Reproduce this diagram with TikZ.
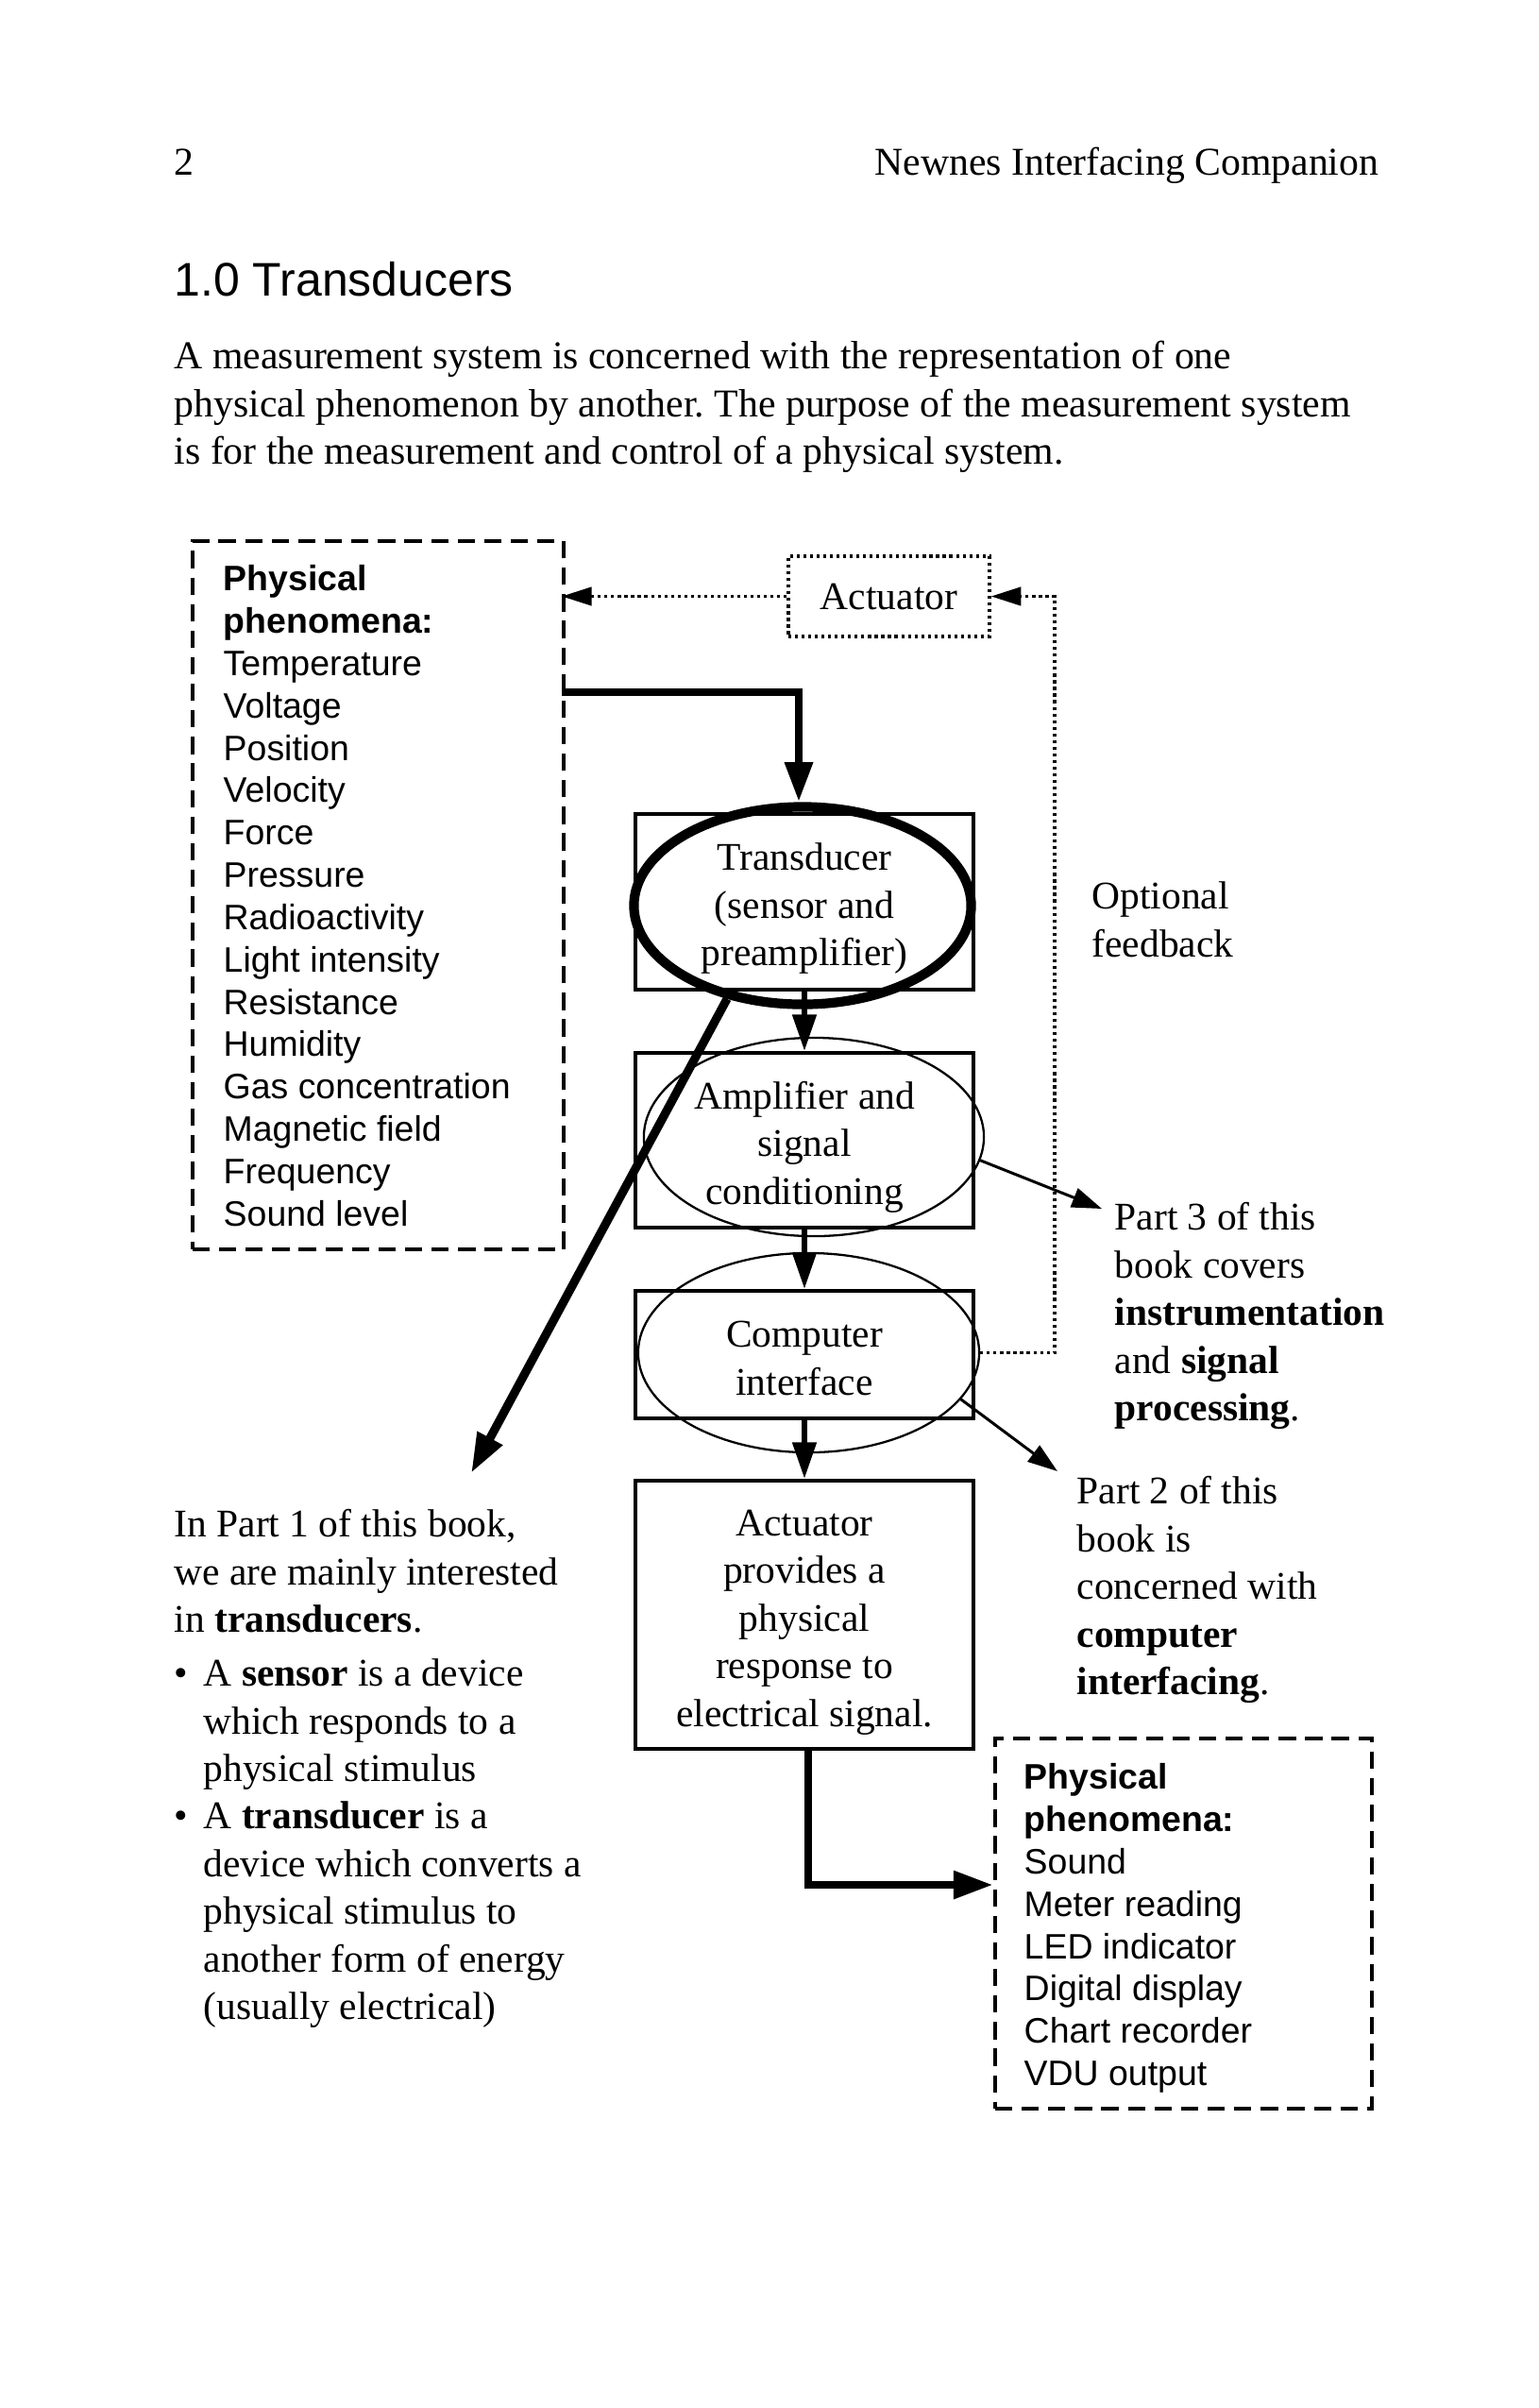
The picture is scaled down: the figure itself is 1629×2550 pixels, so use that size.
\documentclass[tikz,border=0pt]{standalone}
\usepackage{fontspec}
\setmainfont{Liberation Serif}
\setsansfont{Liberation Sans}
\usetikzlibrary{shapes.geometric,arrows.meta,calc}
\newcommand{\tstrut}{\rule{0pt}{12.3pt}}
\begin{document}
\frenchspacing
\begin{tikzpicture}[x=0.01cm,y=-0.01cm,
  serif/.style={font=\fontsize{11.8}{14.34}\selectfont, inner sep=0pt},
  bigserif/.style={font=\fontsize{11.88}{14.34}\selectfont, inner sep=0pt},
  sansf/.style={font=\sffamily\fontsize{10.65}{12.75}\selectfont, inner sep=0pt},
  blockbox/.style={draw, line width=1.1pt, minimum width=3.58cm, align=center, serif, inner sep=0pt},
  thinell/.style={ellipse, draw, line width=0.65pt, inner sep=0pt},
  thickell/.style={ellipse, draw, line width=2.9pt, inner sep=0pt},
  dashbox/.style={draw, line width=1.1pt, dash pattern=on 5.2pt off 2.8pt, inner sep=0pt},
  dotbox/.style={draw, line width=0.9pt, dash pattern=on 0.9pt off 1.1pt, inner sep=0pt},
  dotline/.style={line width=0.9pt, dash pattern=on 0.9pt off 1.1pt, -{Triangle[length=9pt,width=5.5pt]}},
  thickarrow/.style={line width=2.5pt, -{Triangle[length=12pt,width=8pt]}},
  diagarrow/.style={line width=2.6pt, -{Triangle[length=12pt,width=8pt]}},
  medarrow/.style={line width=1.7pt, -{Triangle[length=11pt,width=7pt]}},
  thinarrow/.style={line width=0.85pt, -{Triangle[length=9pt,width=6pt]}}
]
\useasboundingbox (0,0) rectangle (1629,2550);
\fill[white] (0,0) rectangle (1629,2550);

% header
\node[bigserif, anchor=base west] (pg) at (184,185) {2};
\node[bigserif, anchor=base east] (hdr) at (1461,185) {Newnes Interfacing Companion};
\node[font=\sffamily\fontsize{14.2}{17}\selectfont, inner sep=0pt, anchor=base west] (ttl) at (184,313) {1.0 Transducers};
\node[bigserif, align=left, anchor=north west] (intro) at (184,354.7)
  {\strut A measurement system is concerned with the representation of one\\
   physical phenomenon by another. The purpose of the measurement system\\
   is for the measurement and control of a physical system.};

% left dashed box
\node[dashbox, anchor=north west, minimum width=3.93cm, minimum height=7.50cm] (ph1box) at (202,571) {};
\node[sansf, align=left, anchor=north west] (ph1txt) at (236,593.6)
  {\strut\textbf{Physical}\\\textbf{phenomena:}\\Temperature\\Voltage\\Position\\Velocity\\Force\\Pressure\\Radioactivity\\Light intensity\\Resistance\\Humidity\\Gas concentration\\Magnetic field\\Frequency\\Sound level};

% actuator (top)
\node[dotbox, serif, minimum width=2.13cm, minimum height=0.85cm] (act) at (941.5,631.5) {Actuator};

% blocks
\node[blockbox, minimum height=1.86cm] (trect) at (852,955) {\tstrut Transducer\\(sensor and\\preamplifier)};
\node[blockbox, minimum height=1.85cm] (arect) at (852,1207.5) {\tstrut Amplifier and\\signal\\conditioning};
\node[blockbox, minimum height=1.35cm] (crect) at (852,1434.5) {\strut Computer\\interface};
\node[blockbox, minimum height=2.84cm] (actrect) at (852,1710) {\tstrut Actuator\\provides a\\physical\\response to\\electrical signal.};

\node[thickell, minimum width=3.57cm, minimum height=2.09cm] (tel) at (850,959) {};
\node[thinell, minimum width=3.60cm, minimum height=2.10cm] (ael) at (862,1204) {};
\node[thinell, minimum width=3.61cm, minimum height=2.11cm] (cel) at (856.5,1432.5) {};

% bottom-right dashed box
\node[dashbox, anchor=north west, minimum width=3.99cm, minimum height=3.92cm] (ph2box) at (1052,1839) {};
\node[sansf, align=left, anchor=north west] (ph2txt) at (1084,1862.6)
  {\strut\textbf{Physical}\\\textbf{phenomena:}\\Sound\\Meter reading\\LED indicator\\Digital display\\Chart recorder\\VDU output};

% side texts
\node[serif, align=left, anchor=north west] (opt) at (1156,926.7) {\strut Optional\\feedback};
\node[serif, align=left, anchor=north west] (p3) at (1180,1266.7)
  {\strut Part 3 of this\\book covers\\\textbf{instrumentation}\\and \textbf{signal}\\\textbf{processing}.};
\node[serif, align=left, anchor=north west] (p2) at (1140,1556.7)
  {\strut Part 2 of this\\book is\\concerned with\\\textbf{computer}\\\textbf{interfacing}.};
\node[serif, align=left, anchor=north west] (p1) at (184,1591.7)
  {\strut In Part 1 of this book,\\we are mainly interested\\in \textbf{transducers}.};
\node[serif, anchor=base west] (b1) at (184,1785) {•};
\node[serif, align=left, anchor=north west] (b1t) at (215,1749.7)
  {\strut A \textbf{sensor} is a device\\which responds to a\\physical stimulus};
\node[serif, anchor=base west] (b2) at (184,1936) {•};
\node[serif, align=left, anchor=north west] (b2t) at (215,1900.7)
  {\strut A \textbf{transducer} is a\\device which converts a\\physical stimulus to\\another form of energy\\(usually electrical)};

% connectors
\coordinate (tin) at (595,733);
\draw[thickarrow] (tin) -| ($(tel.north)+(-4,0)$);
\draw[medarrow] (trect.south) -- (arect.north);
\draw[medarrow] (arect.south) -- (crect.north);
\draw[medarrow] (crect.south) -- (actrect.north);
\coordinate (p2in) at (1052,1996);
\draw[thickarrow] ($(actrect.south)+(4,0)$) |- (p2in);
\coordinate (p1tip) at (499,1560);
\draw[diagarrow] (tel.231) -- (p1tip);
\coordinate (p3tip) at (1167,1280);
\draw[thinarrow] (ael.-8) -- (p3tip);
\coordinate (p2tip) at (1120,1558);
\draw[thinarrow] (cel.-17) -- (p2tip);
\coordinate (fbk) at (1117,631.5);
\draw[dotline] (cel.east) -| (fbk) -- (act.east);
\coordinate (phin) at (595,631.5);
\draw[dotline] (act.west) -- (phin);
\end{tikzpicture}
\end{document}
